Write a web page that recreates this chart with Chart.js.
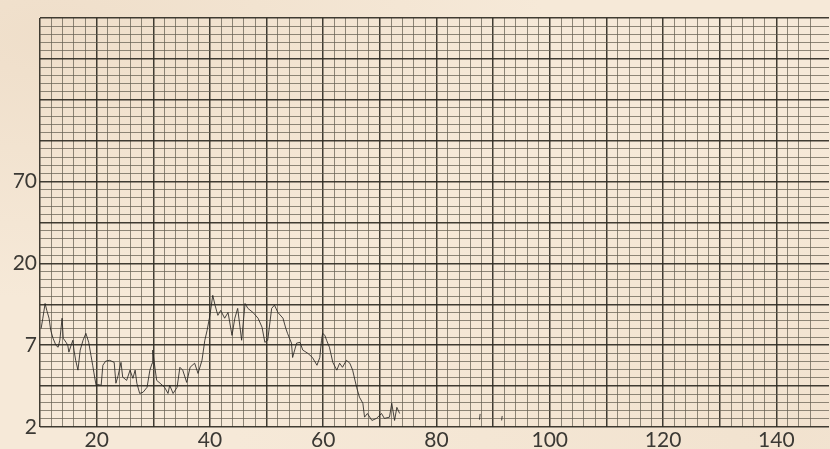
<!DOCTYPE html>
<html>
<head>
<meta charset="utf-8">
<script src="https://cdn.jsdelivr.net/npm/chart.js@4.4.1/dist/chart.umd.min.js"></script>
<style>
    html, body {
        margin: 0;
        padding: 0;
        width: 830px;
        height: 449px;
        overflow: hidden;
        background-color: #f6e9d8;
        background-image:
            radial-gradient(ellipse at 6% 8%, rgba(232, 212, 188, 0.5), rgba(232, 212, 188, 0) 45%),
            radial-gradient(ellipse at 96% 96%, rgba(236, 218, 196, 0.45), rgba(236, 218, 196, 0) 50%);
    }
    #chartWrap {
        position: absolute;
        left: 0;
        top: 0;
        width: 830px;
        height: 449px;
    }
</style>
</head>
<body>
<div id="chartWrap"><canvas id="traceChart" width="830" height="449"></canvas></div>
<script>
// Recorder trace, x in chart units, y in grid bands (5 small divisions per band)
const traceX = [
    10.2, 10.5, 10.9, 11.2, 11.6, 11.9, 12.3, 12.8, 13.2, 13.5, 13.9, 14.1, 14.6, 14.9, 15.1, 15.5,
    15.8, 16.0, 16.3, 16.7, 17.1, 17.6, 18.1, 18.6, 19.0, 19.3, 19.5, 19.9, 20.2, 20.8, 21.1, 21.6,
    22.3, 23.1, 23.4, 23.8, 24.3, 24.6, 25.3, 25.9, 26.4, 26.8, 27.1, 27.6, 28.2, 28.9, 29.4, 29.8,
    29.9, 30.3, 30.6, 31.2, 32.0, 32.6, 32.9, 33.5, 34.2, 34.7, 35.2, 35.9, 36.5, 37.3, 37.9, 38.6,
    39.1, 39.5, 40.0, 40.5, 40.9, 41.4, 41.9, 42.6, 43.2, 43.9, 44.4, 44.9, 45.6, 46.2, 46.7, 47.6,
    48.5, 49.2, 49.7, 50.2, 50.9, 51.4, 52.0, 52.9, 53.4, 53.7, 54.4, 54.6, 55.3, 55.9, 56.4, 57.3,
    58.1, 58.9, 59.4, 59.7, 59.9, 60.3, 60.6, 61.1, 61.7, 62.4, 62.9, 63.4, 64.1, 64.7, 65.2, 65.9,
    66.4, 67.0, 67.3, 67.8, 68.6, 69.4, 70.3, 70.8, 71.7, 72.1, 72.6, 73.0, 73.5
];
const traceY = [
    2.41, 2.66, 3.02, 2.85, 2.66, 2.36, 2.17, 2.00, 1.95, 2.12, 2.66, 2.17, 2.07, 2.00, 1.83, 2.00,
    2.12, 1.88, 1.63, 1.39, 1.88, 2.12, 2.29, 2.07, 1.75, 1.51, 1.34, 1.02, 1.04, 1.02, 1.51, 1.61,
    1.63, 1.58, 1.07, 1.26, 1.58, 1.22, 1.14, 1.39, 1.19, 1.39, 1.07, 0.82, 0.85, 0.97, 1.39, 1.56,
    1.88, 1.44, 1.14, 1.07, 0.97, 0.82, 1.02, 0.82, 0.97, 1.46, 1.39, 1.09, 1.46, 1.56, 1.31, 1.63,
    2.12, 2.36, 2.73, 3.22, 2.98, 2.73, 2.85, 2.66, 2.80, 2.24, 2.66, 2.90, 2.12, 3.02, 2.90, 2.80,
    2.66, 2.44, 2.07, 2.12, 2.90, 2.98, 2.80, 2.66, 2.41, 2.29, 2.05, 1.70, 2.05, 2.07, 1.88, 1.80,
    1.70, 1.51, 1.70, 2.12, 2.29, 2.24, 2.12, 1.95, 1.58, 1.39, 1.56, 1.46, 1.63, 1.56, 1.39, 0.97,
    0.73, 0.58, 0.24, 0.33, 0.16, 0.21, 0.33, 0.21, 0.24, 0.58, 0.16, 0.48, 0.33
];

// Short stray pen marks further along the baseline (null breaks the line)
const markX = [87.6, 87.7, null, 91.5, 91.6];
const markY = [0.18, 0.32, null, 0.16, 0.27];

// Y tick labels, one every two bands starting at the bottom
const yTickLabels = ['2', '7', '20', '70'];
const xTickLabels = [20, 40, 60, 80, 100, 120, 140];

const X_MIN = 10;
const X_MAX = 149.3;
const Y_MAX = 10;

const paperColors = {
    major: 'rgba(48, 45, 36, 0.92)',
    minor: 'rgba(100, 94, 80, 0.72)',
    text: '#3b3934',
    pen: 'rgba(40, 38, 34, 0.85)'
};

const toPoints = (xs, ys) => xs.map((x, i) => (x === null ? { x: null, y: null } : { x: x, y: ys[i] }));

const traceChart = {
    init: () => {
        const ctx = document.getElementById('traceChart');

        new Chart(ctx, {
            type: 'line',
            data: {
                datasets: [{
                    data: toPoints(traceX, traceY),
                    borderColor: paperColors.pen,
                    borderWidth: 1,
                    pointRadius: 0,
                    tension: 0
                }, {
                    data: toPoints(markX, markY),
                    borderColor: paperColors.pen,
                    borderWidth: 1,
                    pointRadius: 0,
                    spanGaps: false,
                    tension: 0
                }]
            },
            options: {
                responsive: false,
                animation: false,
                layout: { padding: { top: 18, left: 0, right: 0, bottom: 0 } },
                plugins: {
                    legend: { display: false },
                    tooltip: { enabled: false }
                },
                scales: {
                    x: {
                        type: 'linear',
                        min: X_MIN,
                        max: X_MAX,
                        afterFit: (scale) => { scale.height = 22; },
                        border: { display: false },
                        grid: {
                            drawTicks: false,
                            color: (c) => traceChart.xGridColor(c.tick.value),
                            lineWidth: (c) => (traceChart.isMajorX(c.tick.value) ? 1.5 : 1)
                        },
                        ticks: {
                            stepSize: 2,
                            autoSkip: false,
                            maxRotation: 0,
                            padding: 1,
                            color: paperColors.text,
                            font: { family: 'Lato', size: 21 },
                            callback: (value) => (xTickLabels.includes(Math.round(value)) && Math.abs(value - Math.round(value)) < 0.01 ? String(Math.round(value)) : '')
                        }
                    },
                    y: {
                        type: 'linear',
                        min: 0,
                        max: Y_MAX,
                        afterFit: (scale) => { scale.width = 40; },
                        border: { display: false },
                        grid: {
                            drawTicks: false,
                            color: (c) => (traceChart.isMajorY(c.tick.value) ? paperColors.major : paperColors.minor),
                            lineWidth: (c) => (traceChart.isMajorY(c.tick.value) ? 1.5 : 1)
                        },
                        ticks: {
                            stepSize: 0.2,
                            autoSkip: false,
                            padding: 3,
                            color: paperColors.text,
                            font: { family: 'Lato', size: 21 },
                            callback: (value) => {
                                const step = Math.round(value * 5);
                                if (step % 10 !== 0) return '';
                                return yTickLabels[step / 10] || '';
                            }
                        }
                    }
                }
            }
        });
    },

    // Heavy lines every 10 units across, every band up
    isMajorX: (v) => Math.abs(v - Math.round(v)) < 0.01 && Math.round(v) % 10 === 0,
    isMajorY: (v) => Math.round(v * 5) % 5 === 0,

    xGridColor: (v) => {
        if (Math.abs(v - Math.round(v)) > 0.01) return 'rgba(0, 0, 0, 0)';
        return traceChart.isMajorX(v) ? paperColors.major : paperColors.minor;
    }
};

traceChart.init();
</script>
</body>
</html>
